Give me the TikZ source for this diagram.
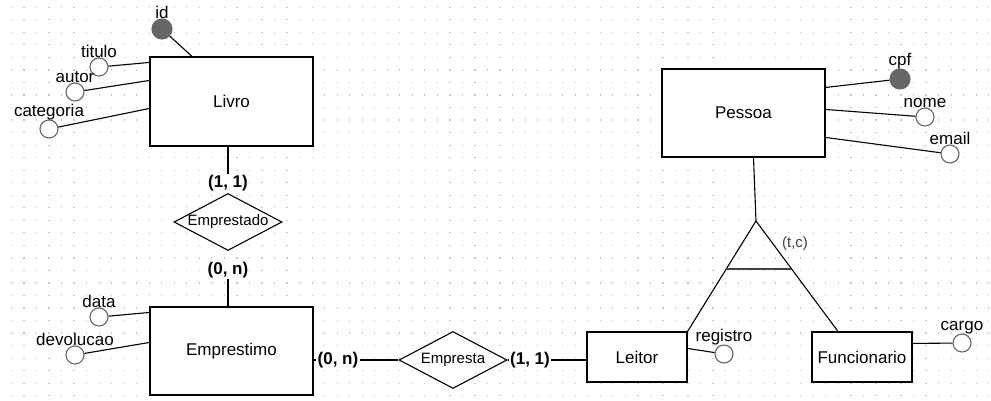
\documentclass[tikz,border=0pt]{standalone}
\usepackage{fontspec}
\setmainfont{Liberation Sans}
\usetikzlibrary{calc,shapes.geometric}

\begin{document}
\begin{tikzpicture}[x=1pt,y=-1pt,line width=1.1pt]
  \tikzstyle{entidade}=[draw, fill=white, font=\fontsize{17}{20}\selectfont];
  \tikzstyle{relacao}=[diamond, draw, fill=white, aspect=1.9, inner sep=0, minimum width=108, minimum height=57, font=\fontsize{15}{18}\selectfont];
  \tikzstyle{atributo}=[circle, draw=black!60, fill=white, minimum size=18, inner sep=0];
  \tikzstyle{chave}=[circle, draw=black!60, fill=black!60, minimum size=20, inner sep=0];
  \tikzstyle{nomeatr}=[inner sep=0, label distance=-1, font=\fontsize{17}{20}\selectfont];
  \tikzstyle{card}=[fill=white, inner sep=1, font=\bfseries\fontsize{17}{20}\selectfont];

  \useasboundingbox (0,0) rectangle (991,401);
  \fill[white] (0,0) rectangle (991,401);
  % grade
  \foreach \i in {0,...,78}
    \foreach \j in {0,...,31}
      \fill[black!22] (11.4+12.53*\i-0.6, 7.3+12.53*\j-0.6) rectangle ++(1.2,1.2);

  % entidades
  \node[entidade, minimum width=163, minimum height=89] (Livro) at (231.5,101.5) {Livro};
  \node[entidade, minimum width=163, minimum height=88] (Emprestimo) at (231.5,351) {Emprestimo};
  \node[entidade, minimum width=163, minimum height=88] (Pessoa) at (743.5,113) {Pessoa};
  \node[entidade, minimum width=100, minimum height=50] (Leitor) at (637,357) {Leitor};
  \node[entidade, minimum width=100, minimum height=50] (Funcionario) at (862,357) {Funcionario};

  % relacionamentos
  \node[relacao] (Emprestado) at (228,222) {Emprestado};
  \node[relacao] (Empresta) at (453,360) {Empresta};

  % cardinalidades
  \node[card] (c1) at (228,183) {(1, 1)};
  \node[card] (c2) at (228,270) {(0, n)};
  \node[card] (c3) at (338,360) {(0, n)};
  \node[card] (c4) at (530,360) {(1, 1)};

  \draw (Livro.south -| Emprestado) -- (c1);
  \draw (c2) -- (Emprestimo.north -| c2);
  \draw (Emprestimo.east |- c3) -- (c3);
  \draw (c3) -- (Empresta);
  \draw (Empresta) -- (c4);
  \draw (c4) -- (Leitor.west |- c4);

  % atributos
  \node[chave, label={[nomeatr]above:id}] (id) at (162,29) {};
  \node[atributo, label={[nomeatr]above:titulo}] (titulo) at (99,67) {};
  \node[atributo, label={[nomeatr]above:autor}] (autor) at (75,92) {};
  \node[atributo, label={[nomeatr]above:categoria}] (categoria) at (49,129) {};
  \node[atributo, label={[nomeatr]above:data}] (data) at (99,317) {};
  \node[atributo, label={[nomeatr]above:devolucao}] (devolucao) at (75,355) {};
  \node[chave, label={[nomeatr]above:cpf}] (cpf) at (900,79) {};
  \node[atributo, label={[nomeatr]above:nome}] (nome) at (925,117) {};
  \node[atributo, label={[nomeatr]above:email}] (email) at (950,154) {};
  \node[atributo, label={[nomeatr]above:registro}] (registro) at (724,354) {};
  \node[atributo, label={[nomeatr]above:cargo}] (cargo) at (962,343) {};

  \draw (id) -- ([xshift=-39.5pt]Livro.north);
  \draw (titulo) -- ([yshift=-6pt]Livro.north west);
  \draw (autor) -- ([yshift=-24pt]Livro.north west);
  \draw (categoria) -- ([yshift=-52pt]Livro.north west);
  \draw (data) -- ([yshift=-6pt]Emprestimo.north west);
  \draw (devolucao) -- ([yshift=-36pt]Emprestimo.north west);
  \draw (cpf) -- ([yshift=-19pt]Pessoa.north east);
  \draw (nome) -- ([yshift=-41pt]Pessoa.north east);
  \draw (email) -- ([yshift=-69pt]Pessoa.north east);
  \draw (registro) -- ([yshift=-17pt]Leitor.north east);
  \draw (cargo) -- ([yshift=-12pt]Funcionario.north east);

  % especializacao
  \coordinate (isa) at (756,221);
  \coordinate (fpt) at ([xshift=-24pt]Funcionario.north);
  \draw ([xshift=10pt]Pessoa.south) -- (isa);
  \draw (isa) -- (Leitor.north east);
  \draw (isa) -- (fpt);
  \draw[line width=1.6pt, black!75] ($(isa)!0.432!(Leitor.north east)$) -- ($(isa)!0.432!(fpt)$);
  \node[text=black!75, font=\fontsize{15}{18}\selectfont] (tc) at (795,244) {(t,c)};
\end{tikzpicture}
\end{document}
